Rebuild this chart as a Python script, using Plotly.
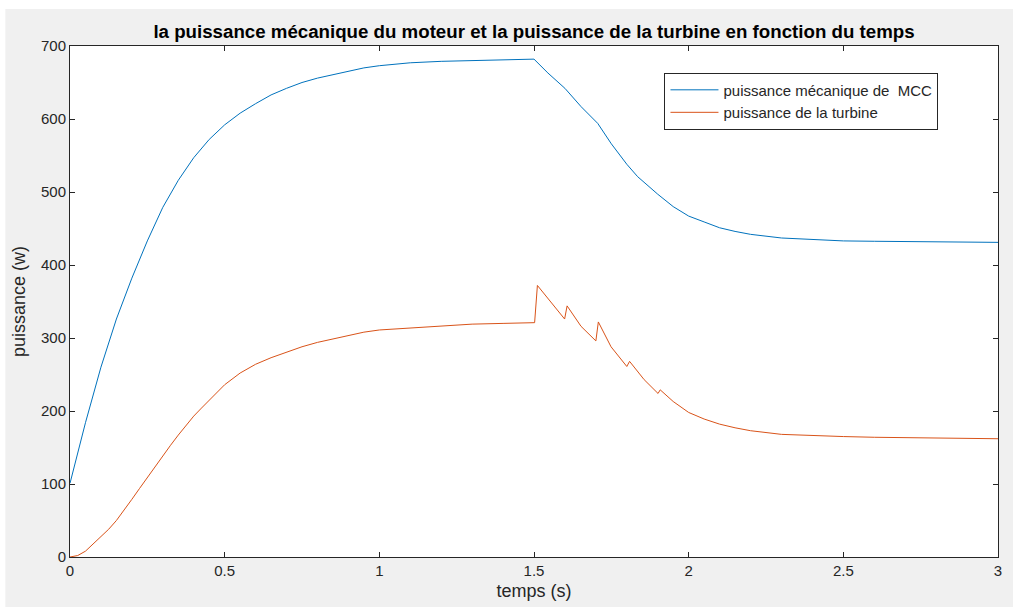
import plotly.graph_objects as go

# Mechanical power of the DC motor (MCC)
t_mcc = [0.0, 0.05, 0.10, 0.15, 0.20, 0.25, 0.30, 0.35, 0.40, 0.45,
         0.50, 0.55, 0.60, 0.65, 0.70, 0.75, 0.80, 0.85, 0.90, 0.95,
         1.00, 1.10, 1.20, 1.30, 1.40, 1.50, 1.545, 1.60, 1.652, 1.706,
         1.75, 1.80, 1.835, 1.90, 1.95, 2.00, 2.05, 2.10, 2.15, 2.20,
         2.30, 2.40, 2.50, 2.60, 2.80, 3.00]
p_mcc = [101, 184, 260, 326, 382, 433, 479, 516, 547, 572,
         592, 608, 621, 633, 642, 650, 656, 661, 666, 670,
         673, 677, 679, 680, 681, 682, 663, 642, 617, 594,
         566, 538, 521, 497, 480, 467, 459, 451, 446, 442,
         437, 434.5, 433, 432.5, 431.5, 431]

# Turbine power, including the step at 1.5 s and the load disturbances
t_turb = [0.0, 0.025, 0.05, 0.075, 0.10, 0.125, 0.15, 0.175, 0.20, 0.225,
          0.25, 0.275, 0.30, 0.325, 0.35, 0.375, 0.40, 0.425, 0.45, 0.475,
          0.50, 0.55, 0.60, 0.65, 0.70, 0.75, 0.80, 0.85, 0.90, 0.95,
          1.00, 1.10, 1.20, 1.30, 1.40, 1.50, 1.502, 1.511, 1.545, 1.577,
          1.599, 1.607, 1.652, 1.70, 1.708, 1.749, 1.80, 1.809, 1.856, 1.901,
          1.908, 1.95, 2.00, 2.05, 2.10, 2.15, 2.20, 2.30, 2.40, 2.50,
          2.60, 2.80, 3.00]
p_turb = [0, 2, 8, 18, 27, 38, 50, 64, 79, 94,
          109, 124, 139, 153, 167, 180, 193, 204, 215, 226,
          236, 252, 264, 273, 281, 288, 294, 299, 304, 308,
          311, 314, 317, 319, 320, 321, 321, 372, 354, 338,
          326, 344, 316, 296, 322, 288, 261, 268, 243, 224,
          229, 213, 198, 189, 182, 177, 173, 168, 166, 165,
          164, 163, 162]

title_text = "la puissance mécanique du moteur et la puissance de la turbine en fonction du temps"
name_mcc = "puissance mécanique de  MCC"
name_turb = "puissance de la turbine"
x_label = "temps (s)"
y_label = "puissance (w)"
x_ticks = [0, 0.5, 1, 1.5, 2, 2.5, 3]
y_ticks = [0, 100, 200, 300, 400, 500, 600, 700]

axis_col = "#262626"
font_family = "Liberation Sans, Arial, sans-serif"

fig = go.Figure()
fig.add_trace(go.Scatter(x=t_mcc, y=p_mcc, mode="lines", name=name_mcc,
                         line=dict(color="#0072BD", width=1)))
fig.add_trace(go.Scatter(x=t_turb, y=p_turb, mode="lines", name=name_turb,
                         line=dict(color="#D95319", width=1)))

axis_common = dict(
    showgrid=False, zeroline=False, showline=True, linecolor=axis_col,
    linewidth=1, mirror="ticks", ticks="inside", ticklen=5, tickwidth=1,
    tickcolor=axis_col, tickfont=dict(family=font_family, size=15, color=axis_col),
)

fig.update_xaxes(range=[0, 3], tickvals=x_ticks, ticktext=[str(v) for v in x_ticks],
                 title=dict(text=x_label, standoff=6,
                            font=dict(family=font_family, size=18, color=axis_col)),
                 **axis_common)
fig.update_yaxes(range=[0, 700], tickvals=y_ticks,
                 title=dict(text=y_label, standoff=10,
                            font=dict(family=font_family, size=18, color=axis_col)),
                 **axis_common)

# white outer strips framing the grey figure window
white_strips = [
    dict(x0=-0.08, x1=1.02, y0=1.0724, y1=1.10),
    dict(x0=-0.08, x1=-0.0697, y0=-0.11, y1=1.10),
    dict(x0=-0.08, x1=1.02, y0=-0.11, y1=-0.0978),
]
for s in white_strips:
    fig.add_shape(type="rect", xref="paper", yref="paper", layer="below",
                  line=dict(width=0), fillcolor="white", **s)

fig.update_layout(
    width=1013, height=610,
    margin=dict(l=70, r=11, t=46, b=53),
    paper_bgcolor="#f0f0f0", plot_bgcolor="white",
    font=dict(family=font_family, color=axis_col),
    title=dict(text="<b>" + title_text + "</b>", x=0.5, xref="paper",
               y=1 - 31 / 610, yanchor="middle", xanchor="center",
               font=dict(family=font_family, size=18.7, color="#000000")),
    legend=dict(x=0.6406, y=0.948, xanchor="left", yanchor="top",
                bgcolor="white", bordercolor=axis_col, borderwidth=1,
                font=dict(family=font_family, size=15, color=axis_col),
                tracegroupgap=0, itemwidth=48),
    showlegend=True,
)

fig.write_html("out.html")
